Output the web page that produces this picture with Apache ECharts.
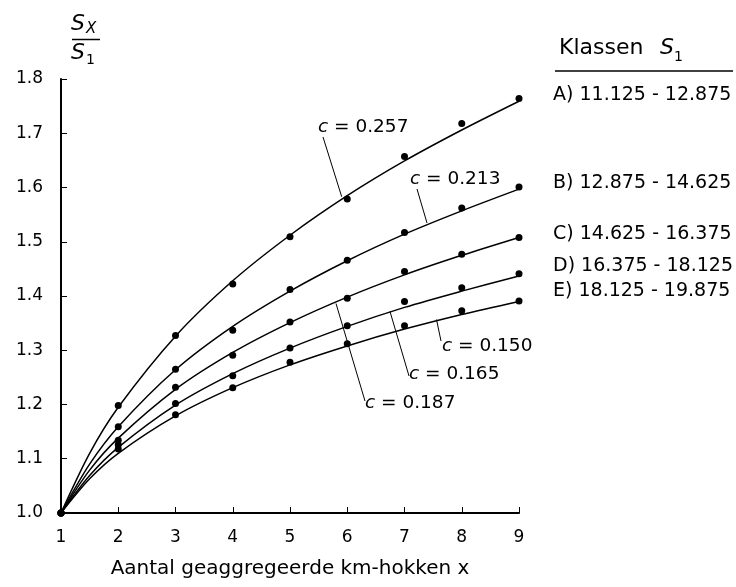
<!DOCTYPE html>
<html>
<head>
<meta charset="utf-8">
<script src="https://cdn.jsdelivr.net/npm/echarts@6/dist/echarts.min.js"></script>
<style>
html,body{margin:0;padding:0;background:#fff;}
#chart{width:736px;height:587px;}
</style>
</head>
<body>
<div id="chart"></div>
<script>
// ---- data ----
var xValues = [1, 2, 3, 4, 5, 6, 7, 8, 9];
var curveX = [1, 1.5, 2, 3, 4, 5, 6, 7, 8, 9];
var yTicks = [1.0, 1.1, 1.2, 1.3, 1.4, 1.5, 1.6, 1.7, 1.8];
var classNames = ['A) 11.125 - 12.875', 'B) 12.875 - 14.625', 'C) 14.625 - 16.375', 'D) 16.375 - 18.125', 'E) 18.125 - 19.875'];
var cLabels = ['0.257', '0.213', '0.187', '0.165', '0.150'];
// observed points
var pointsA = [1.000, 1.198, 1.327, 1.422, 1.509, 1.579, 1.657, 1.718, 1.764];
var pointsB = [1.000, 1.159, 1.265, 1.337, 1.412, 1.466, 1.517, 1.562, 1.601];
var pointsC = [1.000, 1.134, 1.232, 1.291, 1.352, 1.396, 1.445, 1.477, 1.508];
var pointsD = [1.000, 1.126, 1.202, 1.253, 1.304, 1.345, 1.390, 1.415, 1.441];
var pointsE = [1.000, 1.118, 1.181, 1.231, 1.278, 1.312, 1.345, 1.373, 1.391];
// fitted curves (at curveX)
var curveA = [1.000, 1.110, 1.195, 1.326, 1.428, 1.512, 1.585, 1.649, 1.706, 1.759];
var curveB = [1.000, 1.090, 1.159, 1.264, 1.344, 1.409, 1.465, 1.514, 1.557, 1.597];
var curveC = [1.000, 1.079, 1.138, 1.228, 1.296, 1.351, 1.398, 1.439, 1.475, 1.508];
var curveD = [1.000, 1.069, 1.121, 1.199, 1.257, 1.304, 1.344, 1.379, 1.409, 1.437];
var curveE = [1.000, 1.063, 1.110, 1.179, 1.231, 1.273, 1.308, 1.339, 1.366, 1.390];

var FONT = 'DejaVu Sans';
function pairs(xs, ys) { return xs.map(function (x, i) { return [x, ys[i]]; }); }

var curves = [curveA, curveB, curveC, curveD, curveE];
var points = [pointsA, pointsB, pointsC, pointsD, pointsE];
var series = [];
curves.forEach(function (c) {
  series.push({
    type: 'line', data: pairs(curveX, c), smooth: 0.3, showSymbol: false,
    lineStyle: { color: '#000', width: 1.5 }, silent: true, z: 2
  });
});
points.forEach(function (p) {
  series.push({
    type: 'scatter', data: pairs(xValues, p), symbol: 'circle', symbolSize: 7,
    itemStyle: { color: '#000', opacity: 1 }, silent: true, z: 3
  });
});

// annotation layout (pixels)
var cAnnot = [
  { label: cLabels[0], tx: 318, ty: 129, l: [323, 137, 341.7, 196.7] },
  { label: cLabels[1], tx: 410, ty: 181, l: [417, 189, 427, 223] },
  { label: cLabels[2], tx: 365, ty: 405, l: [365, 401, 336, 303.5] },
  { label: cLabels[3], tx: 409, ty: 376, l: [409, 376, 390, 311.5] },
  { label: cLabels[4], tx: 442, ty: 348, l: [441, 341, 436.5, 319.5] }
];
var legendY = [97, 185, 236, 268, 293];

var graphic = [];
cAnnot.forEach(function (a) {
  graphic.push({
    type: 'text', left: a.tx, top: a.ty - 11,
    style: { text: '{i|c}{n| = ' + a.label + '}', rich: {
      i: { fontFamily: FONT, fontSize: 18.5, fontStyle: 'italic', fill: '#000', fontWeight: 'normal' },
      n: { fontFamily: FONT, fontSize: 18.5, fill: '#000' } } }
  });
  graphic.push({ type: 'line', shape: { x1: a.l[0], y1: a.l[1], x2: a.l[2], y2: a.l[3] }, style: { stroke: '#000', lineWidth: 1 } });
});
classNames.forEach(function (n, i) {
  graphic.push({ type: 'text', left: 553, top: legendY[i] - 11,
    style: { text: n, fontFamily: FONT, fontSize: 19, fill: '#000' } });
});
// legend title
graphic.push({ type: 'text', left: 559, top: 37, style: { text: 'Klassen', fontFamily: FONT, fontSize: 22, fill: '#000' } });
graphic.push({ type: 'text', left: 660, top: 37, style: { text: 'S', fontFamily: FONT, fontSize: 22, fontStyle: 'italic', fill: '#000' } });
graphic.push({ type: 'text', left: 674, top: 50, style: { text: '1', fontFamily: FONT, fontSize: 14, fill: '#000' } });
graphic.push({ type: 'line', shape: { x1: 555, y1: 71, x2: 733, y2: 71 }, style: { stroke: '#000', lineWidth: 1.5 } });
// y axis name (fraction)
graphic.push({ type: 'text', left: 71, top: 13, style: { text: 'S', fontFamily: FONT, fontSize: 22, fontStyle: 'italic', fill: '#000' } });
graphic.push({ type: 'text', left: 86, top: 22, style: { text: 'X', fontFamily: FONT, fontSize: 15, fontStyle: 'italic', fill: '#000' } });
graphic.push({ type: 'line', shape: { x1: 72, y1: 39.5, x2: 100, y2: 39.5 }, style: { stroke: '#000', lineWidth: 1.5 } });
graphic.push({ type: 'text', left: 71, top: 42, style: { text: 'S', fontFamily: FONT, fontSize: 22, fontStyle: 'italic', fill: '#000' } });
graphic.push({ type: 'text', left: 86, top: 53, style: { text: '1', fontFamily: FONT, fontSize: 14, fill: '#000' } });

var chart = echarts.init(document.getElementById('chart'), null, { renderer: 'canvas' });
chart.setOption({
  backgroundColor: '#fff',
  animation: false,
  grid: { left: 61, right: 217, top: 79, bottom: 74, containLabel: false },
  xAxis: {
    type: 'value', min: 1, max: 9, interval: 1,
    name: 'Aantal geaggregeerde km-hokken x', nameLocation: 'middle', nameGap: 46,
    nameTextStyle: { fontFamily: FONT, fontSize: 20, color: '#000' },
    axisLine: { show: true, lineStyle: { color: '#000', width: 2 } },
    axisTick: { show: true, inside: true, length: 6, lineStyle: { color: '#000', width: 1 } },
    axisLabel: { margin: 16, fontFamily: FONT, fontSize: 17, color: '#000' },
    splitLine: { show: false }
  },
  yAxis: {
    type: 'value', min: 1.0, max: 1.8, interval: 0.1,
    axisLine: { show: true, lineStyle: { color: '#000', width: 2 } },
    axisTick: { show: true, inside: true, length: 6, lineStyle: { color: '#000', width: 1 } },
    axisLabel: { margin: 18, fontFamily: FONT, fontSize: 17, color: '#000',
      formatter: function (v) { var t = yTicks.filter(function (y) { return Math.abs(y - v) < 1e-6; }); return t.length ? t[0].toFixed(1) : ''; } },
    splitLine: { show: false }
  },
  series: series,
  graphic: graphic
});
</script>
</body>
</html>
